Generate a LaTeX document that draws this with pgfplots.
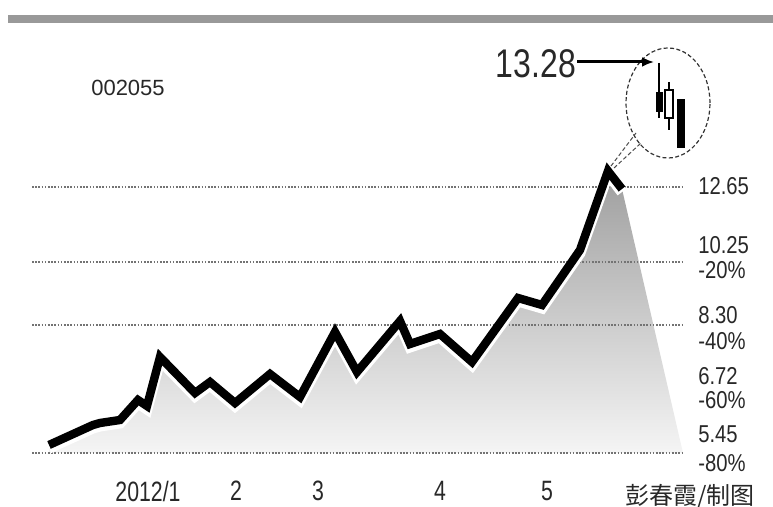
\documentclass[border=0pt]{standalone}
\usepackage{pgfplots}
\pgfplotsset{compat=1.18}
\usetikzlibrary{arrows.meta}
\usepackage{fontspec}
\setmainfont{Liberation Sans}
\newfontfamily\cjk{Noto Sans CJK SC}
\definecolor{txt}{RGB}{40,40,40}

% price path, traced in picture units (x right, y down)
\pgfplotstableread{
x   y
49  445
93  425
100 423
120 420
138 400
147 406
160 357
195 393
210 382
235 403
270 374
300 397
335 332
357 372
400 321
410 344
440 334
472 362
518 298
542 305
580 250
608 171
622 189
}\price

\begin{document}
\begin{tikzpicture}
\useasboundingbox (0,0) rectangle (386.5pt,253.5pt);
\begin{axis}[
    scale only axis,
    width=386.5pt, height=253.5pt,
    xmin=0, xmax=773, ymin=0, ymax=507,
    y dir=reverse,
    hide axis,
    clip=false,
    ]
% top rule
\fill[black!40] (axis cs:8,15) rectangle (axis cs:773,23);

% shaded area under the price
\addplot[draw=none, top color=black!38, middle color=black!29, bottom color=black!4]
    table[x=x,y=y] {\price} -- (axis cs:683,453) -- (axis cs:49,453) -- cycle;

% dotted reference lines
\foreach \g in {187,262,325,453}{
  \edef\tmp{\noexpand\draw[black!55, line width=0.6pt, dash pattern=on 0.8pt off 0.8pt]
    (axis cs:32,\g) -- (axis cs:683,\g);}\tmp
}

% price line with white halo
\addplot[white, line width=5.5pt, line join=miter, yshift=-1.5pt] table[x=x,y=y] {\price};
\addplot[black, line width=4.2pt, line join=miter] table[x=x,y=y] {\price};

% zoom circle with the last three candles
\draw[black!80, line width=0.6pt, dash pattern=on 2pt off 1.2pt]
    (axis cs:668,103) ellipse [x radius=21pt, y radius=27.5pt];
\draw[black!70, line width=0.5pt, dash pattern=on 2pt off 1.2pt]
    (axis cs:611,166) -- (axis cs:636,133);
\draw[black!70, line width=0.5pt, dash pattern=on 2pt off 1.2pt]
    (axis cs:614,168) -- (axis cs:641,143);
\addplot[black, line width=0.8pt] coordinates {(659,63) (659,118)};
\addplot[black, line width=0.8pt] coordinates {(669,82) (669,130)};
\addplot[black, fill=black, line width=0.5pt] coordinates {(656,93) (662,93) (662,112) (656,112)} -- cycle;
\addplot[black, fill=white, line width=0.8pt] coordinates {(665,90) (673,90) (673,118) (665,118)} -- cycle;
\addplot[black, fill=black, line width=0.5pt] coordinates {(677,100) (684,100) (684,148) (677,148)} -- cycle;

% high price label
\draw[-{Latex[length=6pt,width=5pt]}, line width=1.5pt] (axis cs:577,62) -- (axis cs:654,62);
\node[txt, font=\fontsize{20}{20}\selectfont, xscale=0.8] at (axis cs:536,64) {13.28};

% stock code
\node[txt, font=\fontsize{11}{11}\selectfont] at (axis cs:128,88) {002055};

% right-hand levels
\begin{scope}[every node/.style={anchor=west, txt, font=\fontsize{12.2}{12.2}\selectfont, xscale=0.83, inner sep=0pt}]
\node at (axis cs:698,186) {12.65};
\node at (axis cs:698,245) {10.25};
\node at (axis cs:698,270) {-20\%};
\node at (axis cs:698,315) {8.30};
\node at (axis cs:698,341) {-40\%};
\node at (axis cs:698,376) {6.72};
\node at (axis cs:698,400) {-60\%};
\node at (axis cs:698,434) {5.45};
\node at (axis cs:698,463) {-80\%};
\end{scope}

% months
\begin{scope}[every node/.style={txt, font=\fontsize{14}{14}\selectfont, xscale=0.76}]
\node at (axis cs:148,491) {2012/1};
\node at (axis cs:236,491) {2};
\node at (axis cs:318,491) {3};
\node at (axis cs:440,491) {4};
\node at (axis cs:547,491) {5};
\end{scope}

% credit
\node[txt, font=\cjk\fontsize{12}{12}\selectfont] at (axis cs:690,497) {彭春霞/制图};
\end{axis}
\end{tikzpicture}
\end{document}
